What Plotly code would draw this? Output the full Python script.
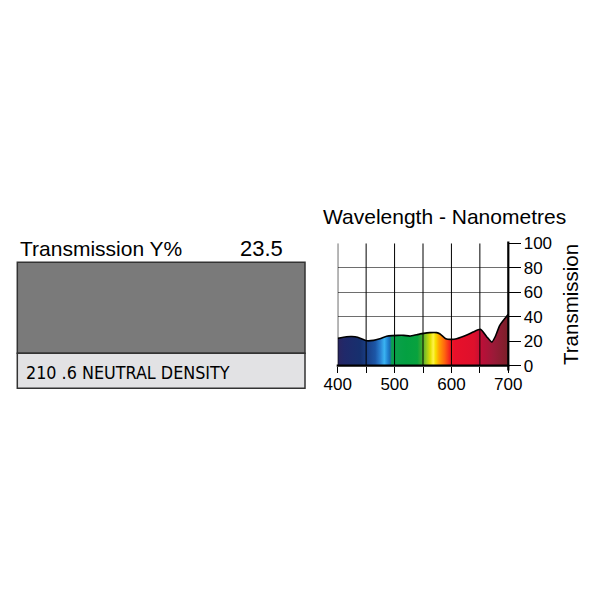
import plotly.graph_objects as go

# ---- data ----
wavelength = [400, 415, 425, 435, 451, 463, 474, 486, 496, 506, 516, 527, 539, 551,
              562, 574, 580, 590, 600, 609, 627, 638, 651, 662, 671, 677, 685, 700]
transmission = [22.3, 23.6, 23.8, 23.2, 20.4, 20.7, 22.0, 24.0, 24.6, 24.8, 24.8, 24.2,
                25.3, 26.4, 27.0, 27.0, 25.9, 22.0, 21.5, 22.0, 25.0, 27.5, 29.7, 23.7,
                19.2, 23.7, 33.0, 42.0]
x_ticks = [400, 500, 600, 700]
x_grid = [450, 500, 550, 600, 650]
y_ticks = [0, 20, 40, 60, 80, 100]
filter_name = "210 .6 NEUTRAL DENSITY"
transmission_y = "23.5"

spectrum = [
    (400, "#2a2560"), (412, "#20296a"), (440, "#16306e"), (452, "#1a4088"),
    (466, "#1c56a6"), (475, "#2a82d2"), (482, "#3ab4f2"), (488, "#2184d2"),
    (492, "#1a6cb2"), (495, "#0ca04c"), (520, "#04a042"), (540, "#08a23e"),
    (548, "#40aa30"), (556, "#98c820"), (563, "#e2e000"), (568, "#fff24a"),
    (572, "#f6e000"), (578, "#ffa400"), (588, "#ff6410"), (597, "#f2221e"),
    (605, "#e8102a"), (640, "#de102c"), (655, "#b81038"), (675, "#9a1a38"),
    (700, "#7a2028"),
]
colorscale = [[(w - 400) / 300, c] for w, c in spectrum]

FONT = "Liberation Sans, Arial, Helvetica, sans-serif"
W = H = 600
OFF = 8  # page body margin

def px(x):
    return (x - OFF) / W

def py(y):
    return 1 - (y - OFF) / H

x0p, x1p = 337.7, 508.3
y0p, y1p = 243.3, 365.7

fig = go.Figure()
fig.add_trace(go.Scatter(
    x=wavelength, y=transmission, mode="lines",
    line=dict(color="black", width=1.6, shape="spline", smoothing=0.5),
    fill="tozeroy",
    fillgradient=dict(type="horizontal", colorscale=colorscale),
    hoverinfo="skip", showlegend=False,
))

shapes = []
for g in x_grid:
    shapes.append(dict(type="line", xref="x", yref="y", x0=g, x1=g, y0=0, y1=100,
                       line=dict(color="black", width=1), layer="above"))
shapes.append(dict(type="line", xref="x", yref="y", x0=400, x1=400, y0=0, y1=100,
                   line=dict(color="black", width=1.2), layer="above"))
shapes.append(dict(type="line", xref="paper", yref="paper", x0=px(x1p), x1=px(x1p),
                   y0=py(370.5), y1=py(241.5), line=dict(color="black", width=2.2), layer="above"))
shapes.append(dict(type="line", xref="paper", yref="paper", x0=px(x0p - 1), x1=px(x1p + 1),
                   y0=py(y1p), y1=py(y1p), line=dict(color="black", width=2.2), layer="above"))

shapes.append(dict(type="rect", xref="paper", yref="paper", x0=px(17.3), x1=px(305),
                   y0=py(353.3), y1=py(262.3), fillcolor="#7a7a7a",
                   line=dict(color="#333333", width=1.5)))
shapes.append(dict(type="rect", xref="paper", yref="paper", x0=px(17.3), x1=px(305),
                   y0=py(388.3), y1=py(353.3), fillcolor="#e2e2e4",
                   line=dict(color="#333333", width=1.5)))

annotations = [
    dict(text="Transmission Y%", x=px(18), y=py(249), xref="paper", yref="paper",
         xanchor="left", yanchor="middle", showarrow=False,
         font=dict(family=FONT, size=21, color="black")),
    dict(text=transmission_y, x=px(285), y=py(249), xref="paper", yref="paper",
         xanchor="right", yanchor="middle", showarrow=False,
         font=dict(family=FONT, size=22, color="black")),
    dict(text=filter_name, x=px(24), y=py(372), xref="paper", yref="paper",
         xanchor="left", yanchor="middle", showarrow=False,
         font=dict(family="DejaVu Sans Condensed, Liberation Sans Narrow, " + FONT,
                   size=17.8, color="black")),
    dict(text="Wavelength - Nanometres", x=px(321), y=py(216), xref="paper", yref="paper",
         xanchor="left", yanchor="middle", showarrow=False,
         font=dict(family=FONT, size=21, color="black")),
    dict(text="Transmission", x=px(570), y=py(305), xref="paper", yref="paper",
         xanchor="center", yanchor="middle", showarrow=False, textangle=-90,
         font=dict(family=FONT, size=20.5, color="black")),
]

fig.update_layout(
    width=W, height=H, margin=dict(l=0, r=0, t=0, b=0, pad=0),
    paper_bgcolor="white", plot_bgcolor="white",
    shapes=shapes, annotations=annotations,
    xaxis=dict(domain=[px(x0p), px(x1p)], range=[400, 700], tickvals=x_grid + [400, 700],
               ticktext=[str(v) if v in x_ticks else "" for v in x_grid + [400, 700]],
               showgrid=False, zeroline=False, showline=False, automargin=False,
               ticks="outside", ticklen=6, tickwidth=1.2, tickcolor="black",
               ticklabelstandoff=-3,
               tickfont=dict(family=FONT, size=17, color="black"), fixedrange=True),
    yaxis=dict(domain=[py(y1p), py(y0p)], range=[0, 100], tickvals=y_ticks,
               side="right", showgrid=True, gridcolor="#6e6e6e", gridwidth=1,
               zeroline=False, showline=False, automargin=False,
               ticks="outside", ticklen=12, tickwidth=1.2, tickcolor="black",
               ticklabelstandoff=-1,
               tickfont=dict(family=FONT, size=17, color="black"), fixedrange=True),
)

fig.write_html("out.html")
